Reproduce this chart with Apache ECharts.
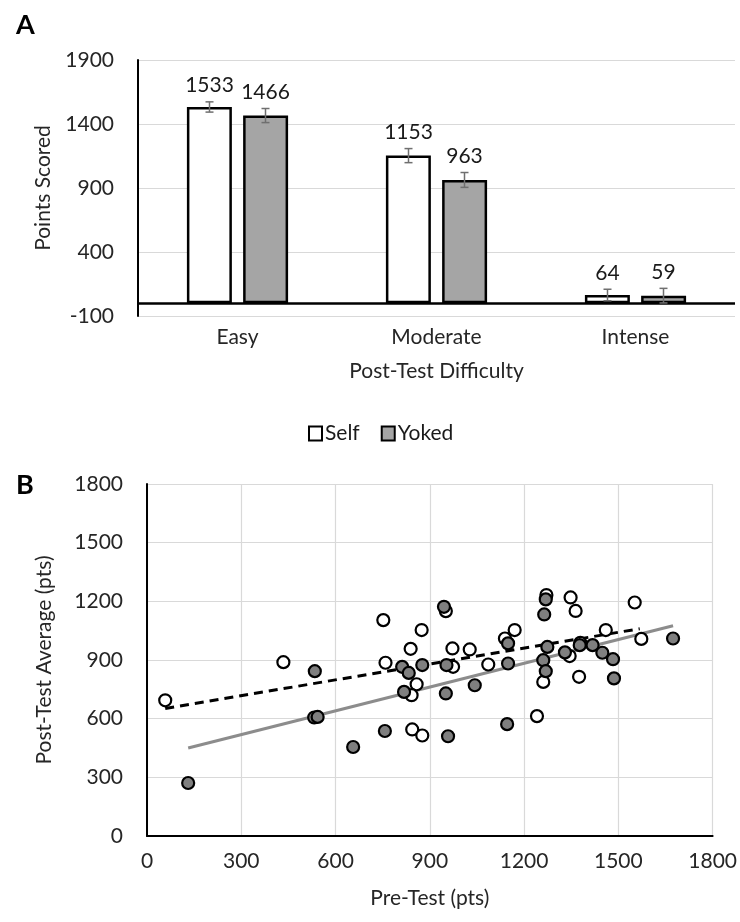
<!DOCTYPE html>
<html>
<head>
<meta charset="utf-8">
<script src="https://cdn.jsdelivr.net/npm/echarts@6/dist/echarts.min.js"></script>
<style>
  html, body { margin: 0; padding: 0; background: #fff; }
  #chartContainer { width: 740px; height: 922px; }
</style>
</head>
<body>
<div id="chartContainer"></div>
<script>
// panel A: points per difficulty
var difficulty = ['Easy', 'Moderate', 'Intense'];
var selfPoints = [1533, 1153, 64];
var yokedPoints = [1466, 963, 59];
var selfErr = [40, 55, 45];
var yokedErr = [55, 58, 57];
var barTicks = [-100, 400, 900, 1400, 1900];

// panel B: pre-test vs post-test average
var selfPre = [58, 434, 752, 874, 839, 759, 858, 842, 844, 876, 972, 974, 1027, 1086, 1139, 1170, 951, 1271, 1348, 1364, 1261, 1241, 1375, 1345, 1379, 1460, 1552, 1573];
var selfPost = [694, 889, 1104, 1053, 957, 886, 776, 720, 545, 514, 959, 865, 954, 877, 1010, 1053, 1150, 1232, 1220, 1151, 788, 613, 814, 920, 988, 1053, 1194, 1008];
var yokedPre = [131, 534, 532, 543, 656, 757, 812, 833, 876, 818, 945, 953, 951, 958, 1043, 1146, 1149, 1149, 1269, 1264, 1274, 1261, 1269, 1330, 1377, 1418, 1449, 1483, 1486, 1674];
var yokedPost = [271, 843, 606, 609, 455, 537, 865, 834, 874, 737, 1172, 874, 729, 510, 771, 572, 985, 882, 1210, 1133, 967, 899, 843, 939, 976, 976, 937, 904, 806, 1010];
var selfTrendX = [58, 1568];
var selfTrendY = [652, 1060];
var yokedTrendX = [131, 1674];
var yokedTrendY = [450, 1075];

var font = 'Lato, "Open Sans", sans-serif';
var fs = 21;

function pairs(xs, ys) {
  var out = [];
  for (var i = 0; i < xs.length; i++) {
    out.push([xs[i], ys[i]]);
  }
  return out;
}

function errData(vals, errs) {
  var out = [];
  for (var i = 0; i < vals.length; i++) {
    out.push([i, vals[i], errs[i]]);
  }
  return out;
}

function plain(v) {
  return String(v);
}

function errorBars(side) {
  return function (params, api) {
    var band = api.size([1, 0])[0];
    var shift = side * band * 0.1407;
    var mid = api.coord([api.value(0), api.value(1)]);
    var hi = api.coord([api.value(0), api.value(1) + api.value(2)]);
    var lo = api.coord([api.value(0), api.value(1) - api.value(2)]);
    var cx = mid[0] + shift;
    var style = { stroke: '#6f6f6f', lineWidth: 1.5 };
    return {
      type: 'group',
      children: [
        { type: 'line', shape: { x1: cx, y1: hi[1], x2: cx, y2: lo[1] }, style: style },
        { type: 'line', shape: { x1: cx - 4, y1: hi[1], x2: cx + 4, y2: hi[1] }, style: style },
        { type: 'line', shape: { x1: cx - 4, y1: lo[1], x2: cx + 4, y2: lo[1] }, style: style },
        {
          type: 'text',
          x: cx,
          y: hi[1] - 6,
          style: {
            text: String(api.value(1)),
            fill: '#1a1a1a',
            font: fs + 'px ' + font,
            textAlign: 'center',
            textVerticalAlign: 'bottom'
          }
        }
      ]
    };
  };
}

var myChart = echarts.init(document.getElementById('chartContainer'));

var option = {
  animation: false,
  textStyle: { fontFamily: font },
  title: [
    { text: 'A', left: 11, top: 7, textStyle: { fontSize: 27, fontWeight: 'bold', color: '#000', fontFamily: font } },
    { text: 'B', left: 11, top: 467, textStyle: { fontSize: 27, fontWeight: 'bold', color: '#000', fontFamily: font } }
  ],
  legend: {
    data: ['Self', 'Yoked'],
    left: 303,
    top: 418,
    icon: 'rect',
    itemWidth: 13,
    itemHeight: 14,
    itemGap: 21,
    textStyle: { fontSize: fs, color: '#1a1a1a', padding: [0, 0, 0, -2] }
  },
  grid: [
    { left: 138, right: 5, top: 60, bottom: 606 },
    { left: 147, right: 27, top: 484, bottom: 86 }
  ],
  xAxis: [
    {
      gridIndex: 0,
      type: 'category',
      data: difficulty,
      axisLine: { show: false },
      axisTick: { show: false },
      axisLabel: { fontSize: fs, color: '#262626', margin: 11 },
      name: 'Post-Test Difficulty',
      nameLocation: 'middle',
      nameGap: 45,
      nameTextStyle: { fontSize: fs, color: '#262626' }
    },
    {
      gridIndex: 1,
      type: 'value',
      min: 0,
      max: 1800,
      interval: 300,
      axisLine: { show: true, onZero: false, lineStyle: { color: '#000', width: 2 } },
      axisTick: { show: false },
      axisLabel: { fontSize: fs, color: '#262626', margin: 15, formatter: plain },
      splitLine: { lineStyle: { color: '#d9d9d9', width: 1.2 } },
      name: 'Pre-Test (pts)',
      nameLocation: 'middle',
      nameGap: 52,
      nameTextStyle: { fontSize: fs, color: '#262626' }
    }
  ],
  yAxis: [
    {
      gridIndex: 0,
      type: 'value',
      min: barTicks[0],
      max: barTicks[barTicks.length - 1],
      interval: 500,
      axisLine: { show: true, lineStyle: { color: '#000', width: 2 } },
      axisTick: { show: false },
      axisLabel: { fontSize: fs, color: '#262626', margin: 24, formatter: plain },
      splitLine: { lineStyle: { color: '#d9d9d9', width: 1.2 } },
      name: 'Points Scored',
      nameLocation: 'middle',
      nameGap: 84,
      nameTextStyle: { fontSize: fs, color: '#262626' }
    },
    {
      gridIndex: 1,
      type: 'value',
      min: 0,
      max: 1800,
      interval: 300,
      axisLine: { show: true, onZero: false, lineStyle: { color: '#000', width: 2 } },
      axisTick: { show: false },
      axisLabel: { fontSize: fs, color: '#262626', margin: 24, formatter: plain },
      splitLine: { lineStyle: { color: '#d9d9d9', width: 1.2 } },
      name: 'Post-Test Average (pts)',
      nameLocation: 'middle',
      nameGap: 92,
      nameTextStyle: { fontSize: fs, color: '#262626' }
    }
  ],
  series: [
    {
      name: 'Self',
      type: 'bar',
      xAxisIndex: 0,
      yAxisIndex: 0,
      barWidth: '22.6%',
      barGap: '25%',
      itemStyle: { color: '#ffffff', borderColor: '#000', borderWidth: 2.5 },
      data: selfPoints,
      markLine: {
        silent: true,
        symbol: ['none', 'none'],
        label: { show: false },
        lineStyle: { color: '#000', width: 2.5, type: 'solid' },
        data: [{ yAxis: 0 }]
      }
    },
    {
      name: 'Yoked',
      type: 'bar',
      xAxisIndex: 0,
      yAxisIndex: 0,
      barWidth: '22.6%',
      barGap: '25%',
      itemStyle: { color: '#a5a5a5', borderColor: '#000', borderWidth: 2.5 },
      data: yokedPoints
    },
    {
      type: 'custom',
      xAxisIndex: 0,
      yAxisIndex: 0,
      z: 5,
      renderItem: errorBars(-1),
      data: errData(selfPoints, selfErr)
    },
    {
      type: 'custom',
      xAxisIndex: 0,
      yAxisIndex: 0,
      z: 5,
      renderItem: errorBars(1),
      data: errData(yokedPoints, yokedErr)
    },
    {
      name: 'Self trend',
      type: 'line',
      xAxisIndex: 1,
      yAxisIndex: 1,
      symbol: 'none',
      z: 1,
      lineStyle: { color: '#000', width: 3, type: [9, 6] },
      data: pairs(selfTrendX, selfTrendY)
    },
    {
      name: 'Yoked trend',
      type: 'line',
      xAxisIndex: 1,
      yAxisIndex: 1,
      symbol: 'none',
      z: 1,
      lineStyle: { color: '#8c8c8c', width: 3 },
      data: pairs(yokedTrendX, yokedTrendY)
    },
    {
      name: 'Self scores',
      type: 'scatter',
      xAxisIndex: 1,
      yAxisIndex: 1,
      symbolSize: 12,
      z: 3,
      itemStyle: { color: '#ffffff', borderColor: '#000', borderWidth: 2.2, opacity: 1 },
      data: pairs(selfPre, selfPost)
    },
    {
      name: 'Yoked scores',
      type: 'scatter',
      xAxisIndex: 1,
      yAxisIndex: 1,
      symbolSize: 12,
      z: 4,
      itemStyle: { color: '#7f7f7f', borderColor: '#000', borderWidth: 2.2, opacity: 1 },
      data: pairs(yokedPre, yokedPost)
    }
  ]
};

window.onresize = myChart.resize;
myChart.setOption(option);
</script>
</body>
</html>
